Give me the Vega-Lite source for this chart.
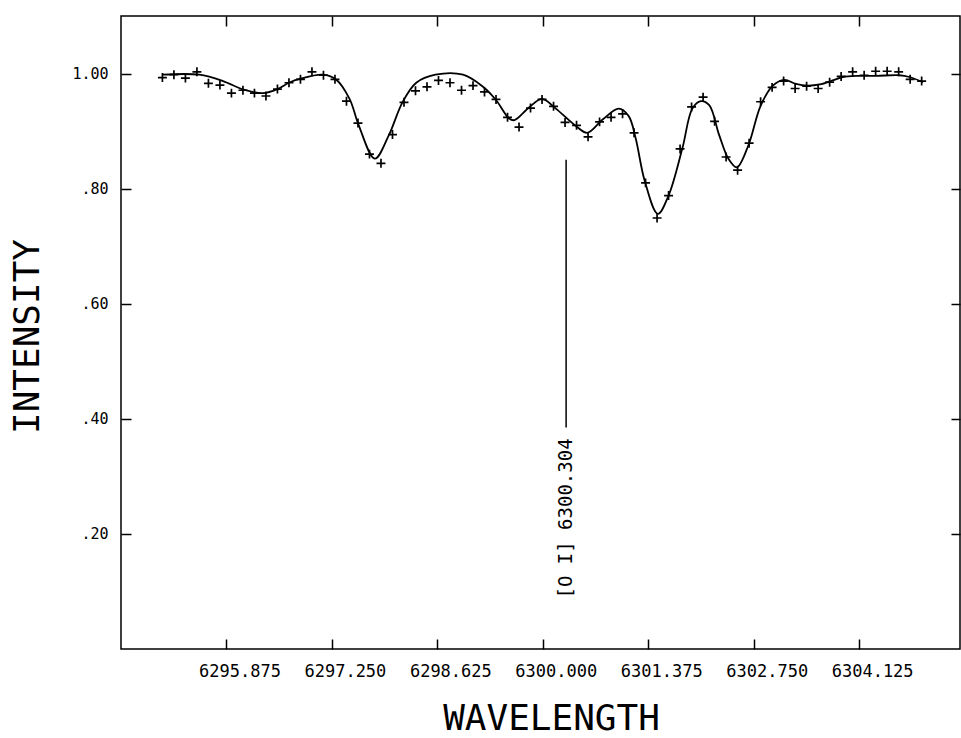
{
  "$schema": "https://vega.github.io/schema/vega-lite/v6.json",
  "width": 839,
  "height": 633,
  "autosize": {"type": "none"},
  "padding": {"left": 121, "top": 16, "right": 1, "bottom": 89},
  "background": "white",
  "config": {
    "view": {"stroke": "black", "strokeWidth": 1.5},
    "axis": {
      "domain": false,
      "grid": false,
      "tickColor": "black",
      "tickWidth": 1.5,
      "labelColor": "black",
      "titleColor": "black",
      "labelFont": "DejaVu Sans Mono",
      "titleFont": "DejaVu Sans Mono",
      "titleFontWeight": "normal"
    }
  },
  "datasets": {
    "obs": [
      {"wavelength": 6295.04, "intensity": 0.993},
      {"wavelength": 6295.19, "intensity": 0.998},
      {"wavelength": 6295.34, "intensity": 0.992},
      {"wavelength": 6295.49, "intensity": 1.003},
      {"wavelength": 6295.64, "intensity": 0.983},
      {"wavelength": 6295.79, "intensity": 0.980},
      {"wavelength": 6295.94, "intensity": 0.966},
      {"wavelength": 6296.09, "intensity": 0.971},
      {"wavelength": 6296.24, "intensity": 0.966},
      {"wavelength": 6296.39, "intensity": 0.961},
      {"wavelength": 6296.54, "intensity": 0.973},
      {"wavelength": 6296.69, "intensity": 0.984},
      {"wavelength": 6296.84, "intensity": 0.990},
      {"wavelength": 6296.99, "intensity": 1.003},
      {"wavelength": 6297.14, "intensity": 0.997},
      {"wavelength": 6297.29, "intensity": 0.990},
      {"wavelength": 6297.44, "intensity": 0.952},
      {"wavelength": 6297.59, "intensity": 0.914},
      {"wavelength": 6297.74, "intensity": 0.860},
      {"wavelength": 6297.89, "intensity": 0.844},
      {"wavelength": 6298.04, "intensity": 0.894},
      {"wavelength": 6298.19, "intensity": 0.950},
      {"wavelength": 6298.34, "intensity": 0.970},
      {"wavelength": 6298.49, "intensity": 0.977},
      {"wavelength": 6298.64, "intensity": 0.988},
      {"wavelength": 6298.79, "intensity": 0.984},
      {"wavelength": 6298.94, "intensity": 0.971},
      {"wavelength": 6299.09, "intensity": 0.979},
      {"wavelength": 6299.24, "intensity": 0.968},
      {"wavelength": 6299.39, "intensity": 0.955},
      {"wavelength": 6299.54, "intensity": 0.924},
      {"wavelength": 6299.69, "intensity": 0.907},
      {"wavelength": 6299.84, "intensity": 0.940},
      {"wavelength": 6299.99, "intensity": 0.955},
      {"wavelength": 6300.14, "intensity": 0.943},
      {"wavelength": 6300.29, "intensity": 0.915},
      {"wavelength": 6300.44, "intensity": 0.910},
      {"wavelength": 6300.59, "intensity": 0.890},
      {"wavelength": 6300.74, "intensity": 0.916},
      {"wavelength": 6300.89, "intensity": 0.924},
      {"wavelength": 6301.04, "intensity": 0.930},
      {"wavelength": 6301.19, "intensity": 0.897},
      {"wavelength": 6301.34, "intensity": 0.810},
      {"wavelength": 6301.49, "intensity": 0.749},
      {"wavelength": 6301.64, "intensity": 0.788},
      {"wavelength": 6301.79, "intensity": 0.869},
      {"wavelength": 6301.94, "intensity": 0.942},
      {"wavelength": 6302.09, "intensity": 0.959},
      {"wavelength": 6302.24, "intensity": 0.917},
      {"wavelength": 6302.39, "intensity": 0.855},
      {"wavelength": 6302.54, "intensity": 0.832},
      {"wavelength": 6302.69, "intensity": 0.879},
      {"wavelength": 6302.84, "intensity": 0.951},
      {"wavelength": 6302.99, "intensity": 0.976},
      {"wavelength": 6303.14, "intensity": 0.987},
      {"wavelength": 6303.29, "intensity": 0.974},
      {"wavelength": 6303.44, "intensity": 0.978},
      {"wavelength": 6303.59, "intensity": 0.974},
      {"wavelength": 6303.74, "intensity": 0.985},
      {"wavelength": 6303.89, "intensity": 0.995},
      {"wavelength": 6304.04, "intensity": 1.003},
      {"wavelength": 6304.19, "intensity": 0.997},
      {"wavelength": 6304.34, "intensity": 1.004},
      {"wavelength": 6304.49, "intensity": 1.004},
      {"wavelength": 6304.64, "intensity": 1.003},
      {"wavelength": 6304.79, "intensity": 0.990},
      {"wavelength": 6304.94, "intensity": 0.987}
    ],
    "fit": [
      {"wavelength": 6295.04, "intensity": 0.998},
      {"wavelength": 6295.52, "intensity": 0.998},
      {"wavelength": 6295.83, "intensity": 0.987},
      {"wavelength": 6296.10, "intensity": 0.972},
      {"wavelength": 6296.35, "intensity": 0.966},
      {"wavelength": 6296.54, "intensity": 0.973},
      {"wavelength": 6296.69, "intensity": 0.984},
      {"wavelength": 6296.84, "intensity": 0.991},
      {"wavelength": 6297.13, "intensity": 0.998},
      {"wavelength": 6297.30, "intensity": 0.990},
      {"wavelength": 6297.48, "intensity": 0.956},
      {"wavelength": 6297.60, "intensity": 0.910},
      {"wavelength": 6297.81, "intensity": 0.852},
      {"wavelength": 6297.99, "intensity": 0.892},
      {"wavelength": 6298.17, "intensity": 0.950},
      {"wavelength": 6298.35, "intensity": 0.984},
      {"wavelength": 6298.60, "intensity": 0.998},
      {"wavelength": 6298.96, "intensity": 0.998},
      {"wavelength": 6299.22, "intensity": 0.977},
      {"wavelength": 6299.39, "intensity": 0.954},
      {"wavelength": 6299.56, "intensity": 0.922},
      {"wavelength": 6299.63, "intensity": 0.919},
      {"wavelength": 6299.82, "intensity": 0.941},
      {"wavelength": 6299.99, "intensity": 0.956},
      {"wavelength": 6300.17, "intensity": 0.939},
      {"wavelength": 6300.43, "intensity": 0.909},
      {"wavelength": 6300.58, "intensity": 0.897},
      {"wavelength": 6300.78, "intensity": 0.920},
      {"wavelength": 6300.99, "intensity": 0.939},
      {"wavelength": 6301.12, "intensity": 0.926},
      {"wavelength": 6301.21, "intensity": 0.888},
      {"wavelength": 6301.33, "intensity": 0.813},
      {"wavelength": 6301.50, "intensity": 0.756},
      {"wavelength": 6301.64, "intensity": 0.788},
      {"wavelength": 6301.82, "intensity": 0.870},
      {"wavelength": 6301.95, "intensity": 0.939},
      {"wavelength": 6302.06, "intensity": 0.952},
      {"wavelength": 6302.17, "intensity": 0.945},
      {"wavelength": 6302.30, "intensity": 0.893},
      {"wavelength": 6302.42, "intensity": 0.852},
      {"wavelength": 6302.53, "intensity": 0.837},
      {"wavelength": 6302.68, "intensity": 0.875},
      {"wavelength": 6302.84, "intensity": 0.944},
      {"wavelength": 6303.00, "intensity": 0.979},
      {"wavelength": 6303.15, "intensity": 0.989},
      {"wavelength": 6303.30, "intensity": 0.982},
      {"wavelength": 6303.45, "intensity": 0.979},
      {"wavelength": 6303.61, "intensity": 0.981},
      {"wavelength": 6303.78, "intensity": 0.988},
      {"wavelength": 6303.91, "intensity": 0.994},
      {"wavelength": 6304.13, "intensity": 0.996},
      {"wavelength": 6304.35, "intensity": 0.996},
      {"wavelength": 6304.65, "intensity": 0.997},
      {"wavelength": 6304.78, "intensity": 0.994},
      {"wavelength": 6304.96, "intensity": 0.985}
    ],
    "line": [
      {"wavelength": 6300.304, "top": 0.85, "bottom": 0.385, "labelAt": 0.366, "label": "[O I] 6300.304"}
    ]
  },
  "resolve": {"axis": {"x": "independent", "y": "independent"}},
  "layer": [
    {
      "data": {"name": "fit"},
      "mark": {"type": "line", "color": "black", "strokeWidth": 1.8, "interpolate": "catmull-rom"},
      "encoding": {
        "x": {
          "field": "wavelength", "type": "quantitative",
          "scale": {"domain": [6294.5, 6305.44], "nice": false, "zero": false},
          "axis": {
            "orient": "bottom", "title": "WAVELENGTH",
            "values": [6295.875, 6297.25, 6298.625, 6300, 6301.375, 6302.75, 6304.125],
            "format": ".3f", "tickSize": -10, "labelFontSize": 17, "labelPadding": 24,
            "labelOffset": 13, "labelFlush": false, "labelOverlap": false,
            "titleFontSize": 36, "titleX": 430, "titleY": 88, "titleAlign": "center", "titleBaseline": "bottom"
          }
        },
        "y": {
          "field": "intensity", "type": "quantitative",
          "scale": {"domain": [0, 1.1], "nice": false, "zero": false},
          "axis": {
            "orient": "left", "title": "INTENSITY",
            "values": [0.2, 0.4, 0.6, 0.8, 1.0],
            "labelExpr": "replace(format(datum.value, '.2f'), '0.', '.')",
            "tickSize": -10, "labelFontSize": 15, "labelPadding": 23, "labelFlush": false,
            "titleFontSize": 36, "titleX": -83, "titleY": 320, "titleAlign": "center", "titleAngle": -90, "titleBaseline": "alphabetic"
          }
        }
      }
    },
    {
      "data": {"name": "obs"},
      "mark": {"type": "point", "shape": "M-1,0L1,0M0,-1L0,1", "filled": false, "stroke": "black", "strokeWidth": 1.7, "size": 80, "opacity": 1},
      "encoding": {
        "x": {
          "field": "wavelength", "type": "quantitative",
          "axis": {
            "orient": "top", "title": null, "labels": false,
            "values": [6295.875, 6297.25, 6298.625, 6300, 6301.375, 6302.75, 6304.125],
            "tickSize": -10
          }
        },
        "y": {
          "field": "intensity", "type": "quantitative",
          "axis": {
            "orient": "right", "title": null, "labels": false,
            "values": [0.2, 0.4, 0.6, 0.8, 1.0],
            "tickSize": -9
          }
        }
      }
    },
    {
      "data": {"name": "line"},
      "mark": {"type": "rule", "color": "black", "strokeWidth": 1.5},
      "encoding": {
        "x": {"field": "wavelength", "type": "quantitative", "axis": null},
        "y": {"field": "top", "type": "quantitative", "axis": null},
        "y2": {"field": "bottom"}
      }
    },
    {
      "data": {"name": "line"},
      "mark": {"type": "text", "angle": 270, "align": "right", "baseline": "middle", "font": "DejaVu Sans Mono", "fontSize": 19, "color": "black"},
      "encoding": {
        "x": {"field": "wavelength", "type": "quantitative", "axis": null},
        "y": {"field": "labelAt", "type": "quantitative", "axis": null},
        "text": {"field": "label"}
      }
    }
  ]
}
